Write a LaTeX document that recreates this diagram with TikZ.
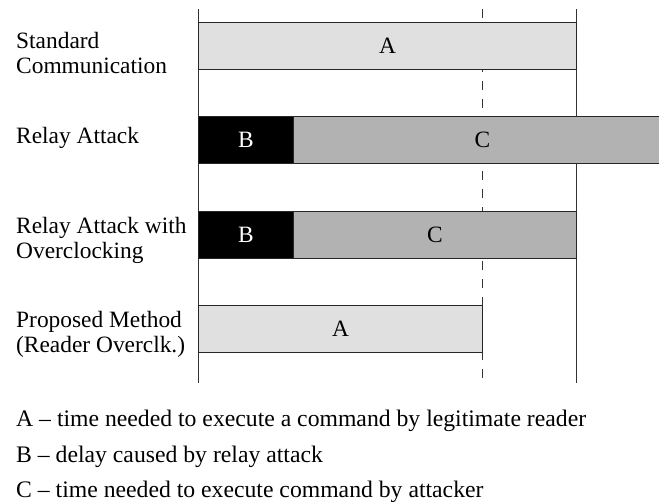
\documentclass[tikz,border=0pt]{standalone}
\usepackage{fontspec}
\setmainfont{Liberation Serif}
\begin{document}
\begin{tikzpicture}[x=1pt,y=-1pt,
  txt/.style={anchor=base west,inner sep=0pt,font=\fontsize{23.4}{25}\selectfont},
  keytxt/.style={anchor=base west,inner sep=0pt,font=\fontsize{23.7}{25}\selectfont},
  bar/.style={draw=black!85,line width=0.9pt,inner sep=0pt,minimum height=47pt,anchor=north west,font=\fontsize{23.4}{25}\selectfont},
  barA/.style={bar,fill=black!12},
  barB/.style={bar,fill=black,text=white},
  barC/.style={bar,fill=black!30},
  axis/.style={draw=black!80,line width=0.9pt},
  dashline/.style={draw=black!80,line width=0.9pt,dash pattern=on 9pt off 9pt}]
\useasboundingbox (0,0) rectangle (659,501);
\clip (0,0) rectangle (659,501);
% vertical lines
\coordinate (lt) at (198,9);
\coordinate (lb) at (198,383);
\coordinate (rt) at (576,9);
\coordinate (rb) at (576,383);
\coordinate (dt) at (482,9);
\coordinate (db) at (482,383);
\draw[dashline] (dt) -- (db);
\draw[axis] (lt) -- (lb);
\draw[axis] (rt) -- (rb);
% bars
\node[barA,minimum width=378pt] (a1) at (198,22) {A};
\node[barC,minimum width=378pt] (c2) at (293,116) {C};
\node[barB,minimum width=95pt] (b2) at (198,116) {B};
\node[barC,minimum width=283pt] (c3) at (293,210.5) {C};
\node[barB,minimum width=95pt] (b3) at (198,210.5) {B};
\node[barA,minimum width=284pt] (a4) at (198,305) {A};
% row labels
\node[txt] (l1a) at (16,48) {Standard};
\node[txt] (l1b) at (16,73) {Communication};
\node[txt] (l2) at (16,143) {Relay Attack};
\node[txt] (l3a) at (16,233) {Relay Attack with};
\node[txt] (l3b) at (16,258) {Overclocking};
\node[txt] (l4a) at (16,327) {Proposed Method};
\node[txt] (l4b) at (16,352) {(Reader Overclk.)};
% legend
\node[keytxt] (ka) at (16,426) {A – time needed to execute a command by legitimate reader};
\node[keytxt] (kb) at (16,462) {B – delay caused by relay attack};
\node[keytxt] (kc) at (16,497) {C – time needed to execute command by attacker};
\end{tikzpicture}
\end{document}
